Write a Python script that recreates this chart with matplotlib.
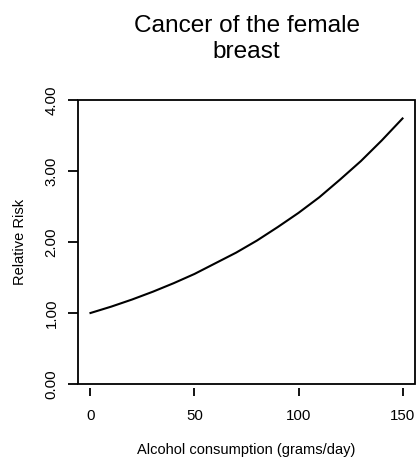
import matplotlib
matplotlib.use("Agg")
import matplotlib.pyplot as plt
from matplotlib.patches import Rectangle

plt.rcParams['font.family'] = ['Liberation Sans', 'DejaVu Sans']

alcohol = [0, 5, 10, 15, 20, 25, 30, 35, 40, 45, 50, 55, 60, 65, 70, 75, 80,
           85, 90, 95, 100, 105, 110, 115, 120, 125, 130, 135, 140, 145, 150]
relative_risk = [1.00, 1.045, 1.09, 1.14, 1.19, 1.245, 1.30, 1.36, 1.42, 1.485,
                 1.55, 1.625, 1.70, 1.775, 1.85, 1.935, 2.02, 2.115, 2.21, 2.31,
                 2.41, 2.52, 2.63, 2.755, 2.88, 3.01, 3.14, 3.285, 3.43, 3.585, 3.74]
x_ticks = [0, 50, 100, 150]
y_ticks = [0, 1, 2, 3, 4]
y_tick_labels = ["0.00", "1.00", "2.00", "3.00", "4.00"]

fig = plt.figure(figsize=(4.17, 4.61), dpi=100)
ax = fig.add_axes([78/417, 1 - 384/461, (415-78)/417, (384-100)/461])

ax.plot(alcohol, relative_risk, color='black', lw=1.5)
ax.set_xlim(-6, 156)
ax.set_ylim(0, 4)

for s in ax.spines.values():
    s.set_visible(False)
ax.add_patch(Rectangle((0, 0), 1, 1, transform=ax.transAxes, fill=False,
                       lw=1.3, edgecolor='black', clip_on=False, zorder=5))
ax.spines['bottom'].set_position(('outward', 3))

ax.set_xticks(x_ticks)
ax.set_xticklabels([str(v) for v in x_ticks])
ax.set_yticks(y_ticks)
ax.set_yticklabels(y_tick_labels, rotation=90, va='center')
ax.tick_params(axis='x', length=6, width=1.3, pad=9, labelsize=10.8)
ax.tick_params(axis='y', length=7, width=1.3, pad=7, labelsize=10.8)

ax.set_xlabel("Alcohol consumption (grams/day)", fontsize=10.5)
ax.xaxis.set_label_coords(0.5, -0.232)
ax.xaxis.label.set_va('center')
ax.set_ylabel("Relative Risk", fontsize=10.5)
ax.yaxis.set_label_coords(-0.172, 0.5)
ax.yaxis.label.set_va('center')

ax.set_title("Cancer of the female\nbreast", fontsize=17.6, pad=30, linespacing=1.25)

fig.savefig("out.png", dpi=100)
